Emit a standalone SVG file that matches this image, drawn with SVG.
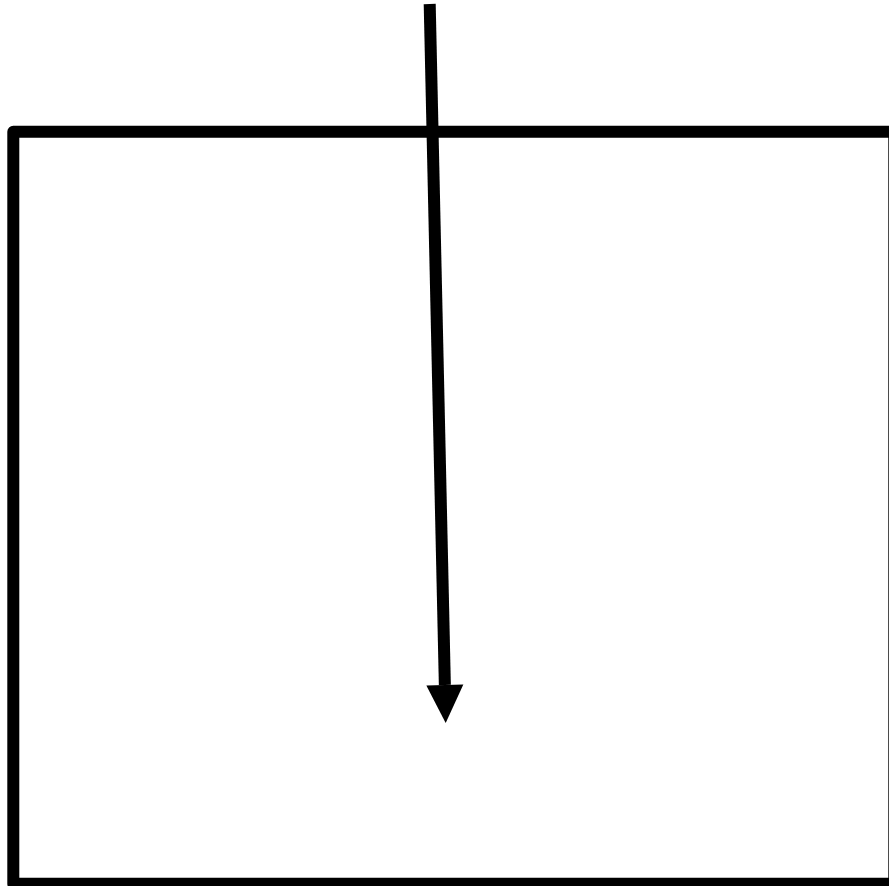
<svg xmlns="http://www.w3.org/2000/svg" width="889" height="886" viewBox="0 0 889 886">
  <style>
    .frame { fill: none; stroke: #000; stroke-width: 12; stroke-linejoin: round; }
    .conn { fill: none; stroke: #000; stroke-width: 12; stroke-linecap: butt; }
  </style>
  <defs>
    <marker id="arrow" markerUnits="userSpaceOnUse" markerWidth="38" markerHeight="37" refX="0" refY="18.5" orient="auto" overflow="visible">
      <path d="M0,0 L38,18.5 L0,37 Z" fill="#000"/>
    </marker>
  </defs>
  <rect width="889" height="886" fill="#fff"/>
  <g id="box">
    <rect class="frame" x="13.3" y="131.8" width="881" height="752"/>
  </g>
  <g id="connectors">
    <line class="conn" x1="429.7" y1="4" x2="444.85" y2="685" marker-end="url(#arrow)"/>
  </g>
</svg>
